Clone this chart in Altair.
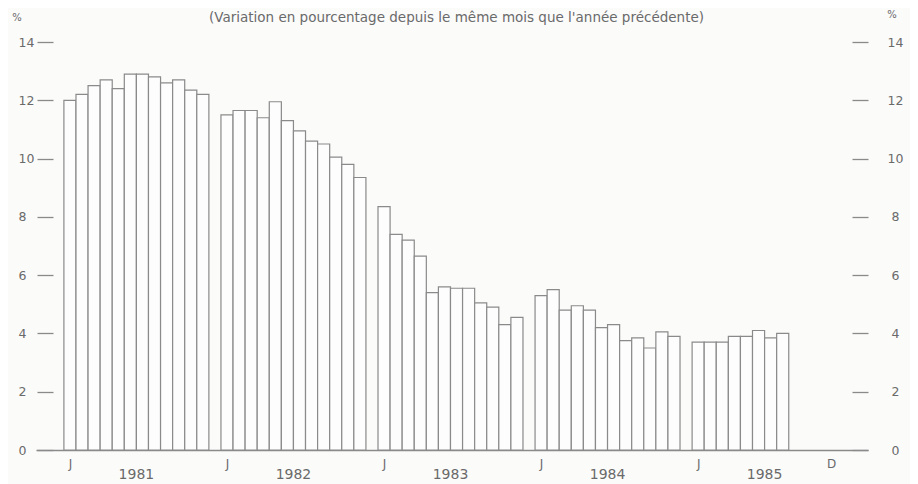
import altair as alt
import pandas as pd

# ---- data ----
years = ["1981", "1982", "1983", "1984", "1985"]
v1981 = [12.0, 12.2, 12.5, 12.7, 12.4, 12.9, 12.9, 12.8, 12.6, 12.7, 12.35, 12.2]
v1982 = [11.5, 11.65, 11.65, 11.4, 11.95, 11.3, 10.95, 10.6, 10.5, 10.05, 9.8, 9.35]
v1983 = [8.35, 7.4, 7.2, 6.65, 5.4, 5.6, 5.55, 5.55, 5.05, 4.9, 4.3, 4.55]
v1984 = [5.3, 5.5, 4.8, 4.95, 4.8, 4.2, 4.3, 3.75, 3.85, 3.5, 4.05, 3.9]
v1985 = [3.7, 3.7, 3.7, 3.9, 3.9, 4.1, 3.85, 4.0]
series = [v1981, v1982, v1983, v1984, v1985]
y_ticks = [0, 2, 4, 6, 8, 10, 12, 14]
title_text = "(Variation en pourcentage depuis le même mois que l'année précédente)"
unit_label = "%"

# ---- tables ----
rows = []
for yi, vals in enumerate(series):
    for m, v in enumerate(vals):
        s = yi * 13 + m
        rows.append({"year": years[yi], "slot": s, "x0": s - 0.5, "x1": s + 0.5, "value": v})
df = pd.DataFrame(rows)

month_tick_slots = [yi * 13 for yi in range(len(years))] + [4 * 13 + 11]
year_df = pd.DataFrame({"year": years, "c": [yi * 13 + 5.5 for yi in range(len(years))]})

W, H = 832, 408
FONT = "DejaVu Sans"
TXT = "#6a6a6a"
LINE = "#8a8a8a"

xscale = alt.Scale(domain=[-2.81, 66.06], nice=False, zero=False)
yscale = alt.Scale(domain=[0, 14], nice=False)

x_axis = alt.Axis(
    values=month_tick_slots,
    labelExpr="datum.value == 63 ? 'D' : 'J'",
    ticks=False, grid=False, domain=True,
    domainColor=LINE, domainWidth=1.5,
    labelPadding=8, labelFontSize=12, labelColor=TXT, labelFont=FONT,
    title=None,
)
left_axis = alt.Axis(
    values=y_ticks, domain=False, grid=False,
    tickSize=16, offset=-17, tickColor=LINE, tickWidth=1.3,
    labelAlign="left", labelPadding=19, labelFontSize=12.5,
    labelColor=TXT, labelFont=FONT, title=None,
)
right_axis = alt.Axis(
    orient="right", values=y_ticks, domain=False, grid=False,
    tickSize=16, offset=-16, tickColor=LINE, tickWidth=1.3,
    labelAlign="center", labelPadding=27, labelFontSize=12.5,
    labelColor=TXT, labelFont=FONT, title=None,
)

bars = alt.Chart(df).mark_rect(
    fill="#fdfdfd", stroke=LINE, strokeWidth=1.2
).encode(
    x=alt.X("x0:Q", scale=xscale, axis=x_axis),
    x2="x1",
    y=alt.Y("value:Q", scale=yscale, axis=left_axis),
    y2=alt.datum(0),
)

right = alt.Chart(df).mark_rect(opacity=0).encode(
    x=alt.X("x0:Q", scale=xscale, axis=x_axis),
    x2="x1",
    y=alt.Y("value:Q", scale=yscale, axis=right_axis),
    y2=alt.datum(0),
)

year_labels = alt.Chart(year_df).mark_text(
    fontSize=14, font=FONT, color=TXT, baseline="middle"
).encode(
    x=alt.X("c:Q", scale=xscale, axis=x_axis),
    y=alt.value(H + 25),
    text="year:N",
)

title = alt.Chart(pd.DataFrame({"t": [title_text]})).mark_text(
    fontSize=13.5, font=FONT, color=TXT, baseline="alphabetic"
).encode(text="t:N", x=alt.value(420.5), y=alt.value(-20))

pct_left = alt.Chart(pd.DataFrame({"t": [unit_label]})).mark_text(
    fontSize=10, font=FONT, color=TXT, baseline="middle"
).encode(text="t:N", x=alt.value(-19), y=alt.value(-24))

pct_right = alt.Chart(pd.DataFrame({"t": [unit_label]})).mark_text(
    fontSize=10, font=FONT, color=TXT, baseline="middle"
).encode(text="t:N", x=alt.value(856), y=alt.value(-27))

chart = alt.layer(bars, right, year_labels, title, pct_left, pct_right).resolve_scale(
    y="independent"
).properties(
    width=W, height=H,
    padding={"left": 28, "top": 34, "right": 42, "bottom": 34},
    autosize=alt.AutoSizeParams(type="none"),
    background="#fbfbfa",
).configure_view(stroke=None)

chart.save("out.html", embed_options={"renderer": "svg", "actions": False})
